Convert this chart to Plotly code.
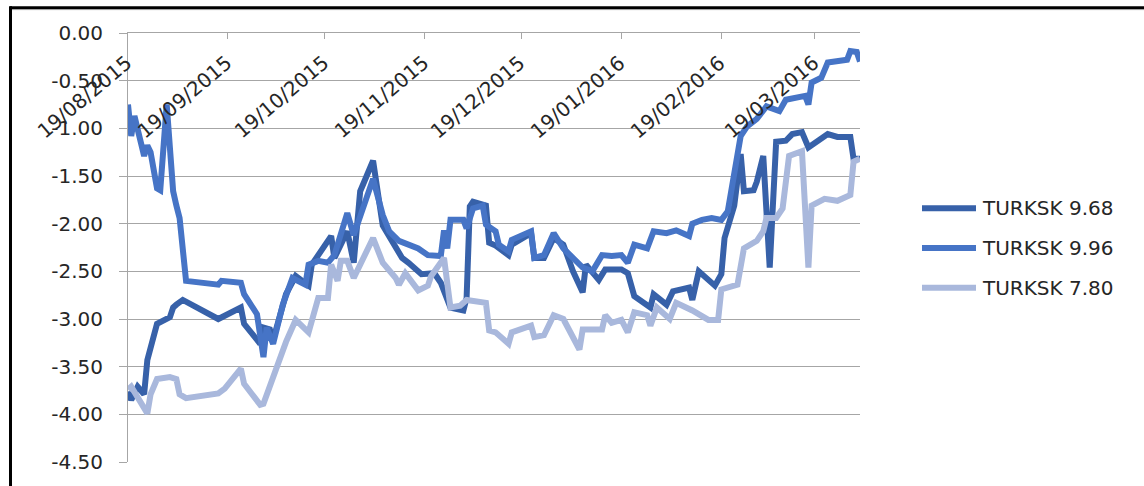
import plotly.graph_objects as go

# ---- data -------------------------------------------------------------
SERIES_NAMES = ["TURKSK 9.68", "TURKSK 9.96", "TURKSK 7.80"]
SERIES_COLORS = ["#3761A9", "#4674C6", "#A9B8DC"]

dates_968 = [
    "2015-08-19", "2015-08-20", "2015-08-22", "2015-08-24", "2015-08-25", "2015-08-28",
    "2015-09-01", "2015-09-02", "2015-09-03", "2015-09-05", "2015-09-16", "2015-09-23",
    "2015-09-24", "2015-09-29", "2015-09-30", "2015-10-02", "2015-10-03", "2015-10-07",
    "2015-10-10", "2015-10-12", "2015-10-14", "2015-10-15", "2015-10-21", "2015-10-22",
    "2015-10-26", "2015-10-28", "2015-10-30", "2015-11-01", "2015-11-03", "2015-11-06",
    "2015-11-09", "2015-11-12", "2015-11-14", "2015-11-18", "2015-11-22", "2015-11-24",
    "2015-11-27", "2015-12-01", "2015-12-02", "2015-12-03", "2015-12-04", "2015-12-08",
    "2015-12-09", "2015-12-11", "2015-12-15", "2015-12-16", "2015-12-22", "2015-12-23",
    "2015-12-26", "2015-12-29", "2016-01-01", "2016-01-04", "2016-01-07", "2016-01-08",
    "2016-01-12", "2016-01-14", "2016-01-19", "2016-01-21", "2016-01-23", "2016-01-28",
    "2016-01-29", "2016-02-02", "2016-02-04", "2016-02-09", "2016-02-10", "2016-02-12",
    "2016-02-17", "2016-02-19", "2016-02-20", "2016-02-23", "2016-02-25", "2016-02-26",
    "2016-02-29", "2016-03-01", "2016-03-03", "2016-03-05", "2016-03-07", "2016-03-10",
    "2016-03-12", "2016-03-15", "2016-03-17", "2016-03-23", "2016-03-26", "2016-03-30",
    "2016-03-31", "2016-04-02",
]
values_968 = [
    -3.76, -3.85, -3.71, -3.79, -3.43, -3.05,
    -2.98, -2.88, -2.85, -2.80, -3.00, -2.88,
    -3.05, -3.26, -3.09, -3.11, -3.22, -2.74,
    -2.55, -2.60, -2.65, -2.43, -2.13, -2.36,
    -2.08, -2.41, -1.66, -1.50, -1.34, -2.02,
    -2.18, -2.36, -2.41, -2.53, -2.52, -2.62,
    -2.88, -2.91, -2.78, -1.82, -1.77, -1.81,
    -2.20, -2.23, -2.33, -2.22, -2.10, -2.36,
    -2.36, -2.15, -2.22, -2.50, -2.72, -2.43,
    -2.59, -2.48, -2.48, -2.52, -2.76, -2.88,
    -2.74, -2.85, -2.71, -2.67, -2.80, -2.50,
    -2.65, -2.53, -2.15, -1.81, -1.27, -1.66,
    -1.65, -1.56, -1.29, -2.46, -1.14, -1.13,
    -1.06, -1.04, -1.20, -1.06, -1.09, -1.09,
    -1.32, -1.32,
]

dates_996 = [
    "2015-08-19", "2015-08-20", "2015-08-21", "2015-08-24", "2015-08-25", "2015-08-26",
    "2015-08-28", "2015-08-29", "2015-08-31", "2015-09-02", "2015-09-03", "2015-09-04",
    "2015-09-06", "2015-09-16", "2015-09-17", "2015-09-23", "2015-09-24", "2015-09-28",
    "2015-09-30", "2015-10-01", "2015-10-03", "2015-10-06", "2015-10-09", "2015-10-11",
    "2015-10-13", "2015-10-14", "2015-10-17", "2015-10-20", "2015-10-22", "2015-10-26",
    "2015-10-28", "2015-11-03", "2015-11-06", "2015-11-08", "2015-11-11", "2015-11-17",
    "2015-11-20", "2015-11-24", "2015-11-25", "2015-11-26", "2015-11-27", "2015-12-01",
    "2015-12-02", "2015-12-04", "2015-12-07", "2015-12-08", "2015-12-11", "2015-12-12",
    "2015-12-15", "2015-12-16", "2015-12-22", "2015-12-23", "2015-12-26", "2015-12-29",
    "2016-01-01", "2016-01-07", "2016-01-10", "2016-01-13", "2016-01-16", "2016-01-19",
    "2016-01-21", "2016-01-23", "2016-01-27", "2016-01-29", "2016-02-02", "2016-02-05",
    "2016-02-09", "2016-02-10", "2016-02-13", "2016-02-16", "2016-02-19", "2016-02-21",
    "2016-02-24", "2016-02-25", "2016-02-27", "2016-03-01", "2016-03-04", "2016-03-08",
    "2016-03-10", "2016-03-16", "2016-03-17", "2016-03-18", "2016-03-21", "2016-03-23",
    "2016-03-29", "2016-03-30", "2016-04-01", "2016-04-02",
]
values_996 = [
    -0.75, -1.08, -0.87, -1.29, -1.18, -1.25,
    -1.63, -1.65, -0.75, -1.66, -1.81, -1.94,
    -2.60, -2.64, -2.60, -2.62, -2.74, -2.95,
    -3.40, -3.09, -3.26, -2.85, -2.57, -2.60,
    -2.64, -2.43, -2.39, -2.41, -2.33, -1.89,
    -2.12, -1.53, -1.91, -2.08, -2.18, -2.26,
    -2.33, -2.34, -2.07, -2.26, -1.96, -1.96,
    -2.05, -1.84, -1.81, -2.01, -2.08, -2.22,
    -2.29, -2.17, -2.08, -2.36, -2.33, -2.10,
    -2.26, -2.46, -2.50, -2.33, -2.34, -2.33,
    -2.41, -2.22, -2.26, -2.08, -2.10, -2.07,
    -2.13, -2.00, -1.96, -1.94, -1.96, -1.87,
    -1.32, -1.08, -0.98, -0.90, -0.77, -0.82,
    -0.70, -0.66, -0.75, -0.52, -0.47, -0.31,
    -0.28, -0.19, -0.20, -0.30,
]

dates_780 = [
    "2015-08-19", "2015-08-20", "2015-08-25", "2015-08-26", "2015-08-28", "2015-09-01",
    "2015-09-03", "2015-09-04", "2015-09-06", "2015-09-16", "2015-09-18", "2015-09-23",
    "2015-09-24", "2015-09-29", "2015-09-30", "2015-10-07", "2015-10-10", "2015-10-14",
    "2015-10-17", "2015-10-20", "2015-10-21", "2015-10-23", "2015-10-24", "2015-10-26",
    "2015-10-28", "2015-11-03", "2015-11-06", "2015-11-10", "2015-11-11", "2015-11-13",
    "2015-11-17", "2015-11-20", "2015-11-21", "2015-11-25", "2015-11-27", "2015-11-30",
    "2015-12-02", "2015-12-08", "2015-12-09", "2015-12-11", "2015-12-15", "2015-12-16",
    "2015-12-22", "2015-12-23", "2015-12-26", "2015-12-29", "2016-01-01", "2016-01-06",
    "2016-01-07", "2016-01-13", "2016-01-14", "2016-01-16", "2016-01-19", "2016-01-21",
    "2016-01-23", "2016-01-27", "2016-01-28", "2016-01-30", "2016-02-03", "2016-02-05",
    "2016-02-10", "2016-02-15", "2016-02-18", "2016-02-19", "2016-02-24", "2016-02-26",
    "2016-03-01", "2016-03-03", "2016-03-04", "2016-03-07", "2016-03-09", "2016-03-11",
    "2016-03-15", "2016-03-17", "2016-03-18", "2016-03-22", "2016-03-26", "2016-03-30",
    "2016-03-31", "2016-04-02",
]
values_780 = [
    -3.74, -3.71, -3.99, -3.79, -3.63, -3.61,
    -3.63, -3.79, -3.83, -3.78, -3.73, -3.52,
    -3.68, -3.90, -3.89, -3.24, -3.01, -3.14,
    -2.78, -2.78, -2.43, -2.60, -2.39, -2.39,
    -2.57, -2.15, -2.41, -2.57, -2.64, -2.52,
    -2.70, -2.65, -2.55, -2.36, -2.88, -2.86,
    -2.80, -2.83, -3.12, -3.14, -3.26, -3.14,
    -3.07, -3.19, -3.17, -2.96, -3.00, -3.32,
    -3.11, -3.11, -2.96, -3.04, -3.01, -3.14,
    -2.93, -2.96, -3.07, -2.88, -3.00, -2.83,
    -2.91, -3.01, -3.01, -2.69, -2.64, -2.26,
    -2.18, -2.08, -1.94, -1.94, -1.84, -1.29,
    -1.24, -2.46, -1.81, -1.74, -1.76, -1.70,
    -1.35, -1.32,
]

X_TICK_DATES = ["2015-08-19", "2015-09-19", "2015-10-19", "2015-11-19",
                "2015-12-19", "2016-01-19", "2016-02-19", "2016-03-19"]
X_TICK_LABELS = ["19/08/2015", "19/09/2015", "19/10/2015", "19/11/2015",
                 "19/12/2015", "19/01/2016", "19/02/2016", "19/03/2016"]
Y_TICK_VALUES = [0, -0.5, -1.0, -1.5, -2.0, -2.5, -3.0, -3.5, -4.0, -4.5]
Y_TICK_LABELS = ["0.00", "-0.50", "-1.00", "-1.50", "-2.00",
                 "-2.50", "-3.00", "-3.50", "-4.00", "-4.50"]

# ---- geometry ---------------------------------------------------------
W, H = 1144, 486
PL, PR, PT, PB = 128, 860, 33, 466          # plot area in pixels
FONT = "DejaVu Sans"
TEXT = "#262626"
GRID = "#a6a6a6"


def paper_x(px):
    return (px - PL) / (PR - PL)


def paper_y(py):
    return (PB - py) / (PB - PT)


fig = go.Figure()
for name, color, xs, ys in zip(
        SERIES_NAMES, SERIES_COLORS,
        [dates_968, dates_996, dates_780],
        [values_968, values_996, values_780]):
    fig.add_trace(go.Scatter(
        x=xs, y=ys, name=name, mode="lines",
        line=dict(color=color, width=6),
        showlegend=False,
    ))

annotations = []
# date labels hanging under the top axis
for d, lab in zip(X_TICK_DATES, X_TICK_LABELS):
    annotations.append(dict(
        x=d, xref="x", y=1, yref="paper", text=lab, showarrow=False,
        textangle=-40, xanchor="right", yanchor="top",
        xshift=11, yshift=-15,
        font=dict(family=FONT, size=20, color=TEXT),
    ))

shapes = []
# legend drawn beside the plot
legend_rows = [210, 250, 290]
for name, color, row in zip(SERIES_NAMES, SERIES_COLORS, legend_rows):
    shapes.append(dict(
        type="line", xref="paper", yref="paper",
        x0=paper_x(922), x1=paper_x(976), y0=paper_y(row), y1=paper_y(row),
        line=dict(color=color, width=6),
    ))
    annotations.append(dict(
        x=paper_x(980), y=paper_y(row), xref="paper", yref="paper",
        text=name, showarrow=False, xanchor="left", yanchor="middle",
        font=dict(family=FONT, size=20, color=TEXT),
    ))

# outer frame (top and left edges)
shapes.append(dict(type="line", xref="paper", yref="paper",
                   x0=paper_x(10), x1=paper_x(W + 5), y0=paper_y(9.5), y1=paper_y(9.5),
                   line=dict(color="#d0d0d0", width=1)))
shapes.append(dict(type="line", xref="paper", yref="paper",
                   x0=paper_x(10), x1=paper_x(W + 5), y0=paper_y(7.5), y1=paper_y(7.5),
                   line=dict(color="#000000", width=3)))
shapes.append(dict(type="line", xref="paper", yref="paper",
                   x0=paper_x(10.5), x1=paper_x(10.5), y0=paper_y(6), y1=paper_y(H + 5),
                   line=dict(color="#000000", width=3)))

fig.update_layout(
    width=W, height=H,
    margin=dict(l=PL, r=W - PR, t=PT, b=H - PB, pad=0),
    paper_bgcolor="white", plot_bgcolor="white",
    font=dict(family=FONT, size=20, color=TEXT),
    showlegend=False,
    annotations=annotations,
    shapes=shapes,
    xaxis=dict(
        type="date", side="top", range=["2015-08-19", "2016-04-02"],
        showgrid=False, zeroline=False,
        showline=True, linecolor=GRID, linewidth=1,
        ticks="inside", ticklen=6, tickcolor=GRID,
        tickvals=X_TICK_DATES, showticklabels=False,
    ),
    yaxis=dict(
        range=[-4.5, 0], tickvals=Y_TICK_VALUES, ticktext=Y_TICK_LABELS,
        showgrid=True, gridcolor=GRID, gridwidth=1, zeroline=False,
        showline=True, linecolor=GRID, linewidth=1,
        ticks="outside", ticklen=8, tickcolor=GRID,
        ticklabelstandoff=12,
        tickfont=dict(family=FONT, size=20, color=TEXT),
    ),
)

fig.write_html("out.html")
